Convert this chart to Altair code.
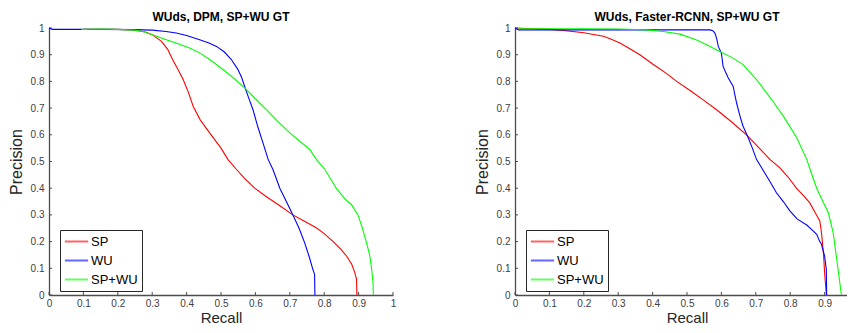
import altair as alt
import pandas as pd

FONT = "Liberation Sans"
W, H = 344, 267

ticks = [0, 0.1, 0.2, 0.3, 0.4, 0.5, 0.6, 0.7, 0.8, 0.9, 1]
series_names = ["SP", "WU", "SP+WU"]
series_colors = ["#ff0000", "#0000ff", "#00ff00"]

titles = ["WUds, DPM, SP+WU GT", "WUds, Faster-RCNN, SP+WU GT"]

# ---- Left panel: DPM ----
dpm_sp_recall = [0.10, 0.20, 0.25, 0.28, 0.30, 0.327, 0.345, 0.36, 0.375, 0.39, 0.405, 0.419, 0.44, 0.467,
                 0.50, 0.52, 0.545, 0.57, 0.598, 0.63, 0.67, 0.709, 0.74, 0.777, 0.80, 0.826, 0.848, 0.865,
                 0.88, 0.889, 0.894, 0.895]
dpm_sp_precision = [0.995, 0.995, 0.992, 0.985, 0.975, 0.95, 0.92, 0.88, 0.845, 0.807, 0.76, 0.707, 0.655,
                    0.607, 0.55, 0.508, 0.47, 0.435, 0.40, 0.37, 0.335, 0.30, 0.278, 0.252, 0.23, 0.20,
                    0.172, 0.146, 0.115, 0.084, 0.059, 0.0]

dpm_wu_recall = [0.0, 0.01, 0.05, 0.15, 0.25, 0.30, 0.34, 0.37, 0.40, 0.438, 0.465, 0.487, 0.51, 0.53,
                 0.549, 0.56, 0.569, 0.58, 0.593, 0.607, 0.622, 0.637, 0.651, 0.671, 0.69, 0.709, 0.727,
                 0.743, 0.756, 0.767, 0.772, 0.773]
dpm_wu_precision = [1.0, 0.995, 0.995, 0.995, 0.994, 0.992, 0.987, 0.981, 0.972, 0.956, 0.944, 0.931, 0.91,
                    0.882, 0.845, 0.815, 0.78, 0.74, 0.694, 0.63, 0.57, 0.508, 0.47, 0.40, 0.35, 0.30,
                    0.25, 0.196, 0.145, 0.096, 0.077, 0.0]

dpm_spwu_recall = [0.094, 0.15, 0.20, 0.25, 0.273, 0.30, 0.341, 0.375, 0.409, 0.44, 0.467, 0.50, 0.525,
                   0.569, 0.60, 0.632, 0.665, 0.70, 0.73, 0.758, 0.777, 0.802, 0.835, 0.86, 0.879, 0.898,
                   0.91, 0.923, 0.932, 0.937, 0.942, 0.943]
dpm_spwu_precision = [0.995, 0.996, 0.995, 0.992, 0.987, 0.975, 0.956, 0.941, 0.925, 0.905, 0.882, 0.85,
                      0.825, 0.776, 0.735, 0.694, 0.65, 0.607, 0.575, 0.545, 0.508, 0.47, 0.40, 0.36,
                      0.339, 0.30, 0.255, 0.196, 0.15, 0.108, 0.046, 0.0]

# ---- Right panel: Faster-RCNN ----
frcnn_sp_recall = [0.0, 0.05, 0.10, 0.14, 0.20, 0.257, 0.28, 0.305, 0.33, 0.363, 0.40, 0.44, 0.47, 0.51,
                   0.55, 0.586, 0.63, 0.673, 0.71, 0.741, 0.77, 0.795, 0.818, 0.84, 0.857, 0.872, 0.886,
                   0.891, 0.897, 0.90, 0.905]
frcnn_sp_precision = [1.0, 0.997, 0.995, 0.991, 0.982, 0.969, 0.958, 0.944, 0.925, 0.90, 0.865, 0.83, 0.80,
                      0.765, 0.728, 0.694, 0.648, 0.60, 0.55, 0.508, 0.476, 0.44, 0.40, 0.37, 0.345, 0.31,
                      0.277, 0.233, 0.15, 0.084, 0.0]

frcnn_wu_recall = [0.0, 0.01, 0.1, 0.3, 0.5, 0.567, 0.575, 0.581, 0.586, 0.591, 0.6, 0.605, 0.612, 0.62,
                   0.634, 0.644, 0.654, 0.663, 0.678, 0.69, 0.702, 0.72, 0.741, 0.76, 0.78, 0.799, 0.82,
                   0.848, 0.862, 0.877, 0.886, 0.891, 0.90, 0.905, 0.906]
frcnn_wu_precision = [1.0, 0.993, 0.993, 0.993, 0.993, 0.993, 0.99, 0.981, 0.962, 0.931, 0.906, 0.856,
                      0.835, 0.813, 0.782, 0.72, 0.67, 0.632, 0.589, 0.55, 0.508, 0.47, 0.425, 0.383, 0.35,
                      0.315, 0.285, 0.262, 0.246, 0.227, 0.20, 0.19, 0.146, 0.096, 0.0]

frcnn_spwu_recall = [0.01, 0.1, 0.2, 0.3, 0.38, 0.431, 0.48, 0.528, 0.56, 0.595, 0.63, 0.663, 0.702, 0.746,
                     0.78, 0.819, 0.848, 0.862, 0.877, 0.895, 0.911, 0.925, 0.949]
frcnn_spwu_precision = [0.997, 0.997, 0.997, 0.996, 0.993, 0.987, 0.977, 0.955, 0.935, 0.912, 0.89, 0.863,
                        0.807, 0.732, 0.67, 0.589, 0.508, 0.455, 0.40, 0.35, 0.308, 0.233, 0.0]

panels = [
    [(dpm_sp_recall, dpm_sp_precision), (dpm_wu_recall, dpm_wu_precision),
     (dpm_spwu_recall, dpm_spwu_precision)],
    [(frcnn_sp_recall, frcnn_sp_precision), (frcnn_wu_recall, frcnn_wu_precision),
     (frcnn_spwu_recall, frcnn_spwu_precision)],
]

AX = "#4d4d4d"


def make_panel(title, series):
    rows = []
    for name, (rec, prec) in zip(series_names, series):
        for i, (r, p) in enumerate(zip(rec, prec)):
            rows.append({"series": name, "idx": i, "recall": r, "precision": p})
    df = pd.DataFrame(rows)
    tick_df = pd.DataFrame({"recall": ticks, "precision": ticks})

    xax = alt.Axis(values=ticks, format="~g", title="Recall")
    yax = alt.Axis(values=ticks, format="~g", title="Precision")
    xs = alt.Scale(domain=[0, 1], nice=False)
    ys = alt.Scale(domain=[0, 1], nice=False)

    lines = alt.Chart(df).mark_line(strokeWidth=1.1).encode(
        x=alt.X("recall:Q", scale=xs, axis=xax),
        y=alt.Y("precision:Q", scale=ys, axis=yax),
        color=alt.Color(
            "series:N",
            scale=alt.Scale(domain=series_names, range=series_colors),
            legend=alt.Legend(
                title=None, orient="none", legendX=11, legendY=H - 65,
                strokeColor="#262626", fillColor="white", padding=4,
                symbolType="M-1.9,0H1.9", symbolSize=150, symbolStrokeWidth=2,
                symbolOffset=5, symbolOpacity=0.6, labelFontSize=13, labelFont=FONT,
                labelColor="black", rowPadding=4, labelOffset=7,
            ),
        ),
        order=alt.Order("idx:Q"),
    )
    xt = alt.Chart(tick_df).mark_rule(color=AX, strokeWidth=1).encode(
        x=alt.X("recall:Q", scale=xs, axis=xax),
        y=alt.value(H), y2=alt.value(H - 3),
    )
    yt = alt.Chart(tick_df).mark_rule(color=AX, strokeWidth=1).encode(
        y=alt.Y("precision:Q", scale=ys, axis=yax),
        x=alt.value(0), x2=alt.value(3),
    )
    return alt.layer(xt, yt, lines).properties(
        width=W, height=H,
        title=alt.TitleParams(title, fontSize=12, fontWeight="bold",
                              font=FONT, color="black", anchor="middle", offset=-1),
    )


chart = alt.hconcat(
    make_panel(titles[0], panels[0]),
    make_panel(titles[1], panels[1]),
    spacing=122, bounds="flush",
).resolve_scale(color="independent").resolve_legend(color="independent").configure(
    padding={"left": 0, "top": 3, "right": -15, "bottom": 0},
).configure_view(strokeWidth=0).configure_axis(
    grid=False, ticks=False, domainColor=AX, domainWidth=1.3, labelColor="#404040",
    labelFont=FONT, labelFontSize=10, labelPadding=5, titleFont=FONT, titleFontSize=15,
    titleFontWeight="normal", titleColor="#262626", labelFlush=False,
).configure_axisX(titlePadding=2, labelPadding=3).configure_axisY(titlePadding=6, titleFontSize=16)

chart.save("out.html", embed_options={"renderer": "svg", "actions": False})
